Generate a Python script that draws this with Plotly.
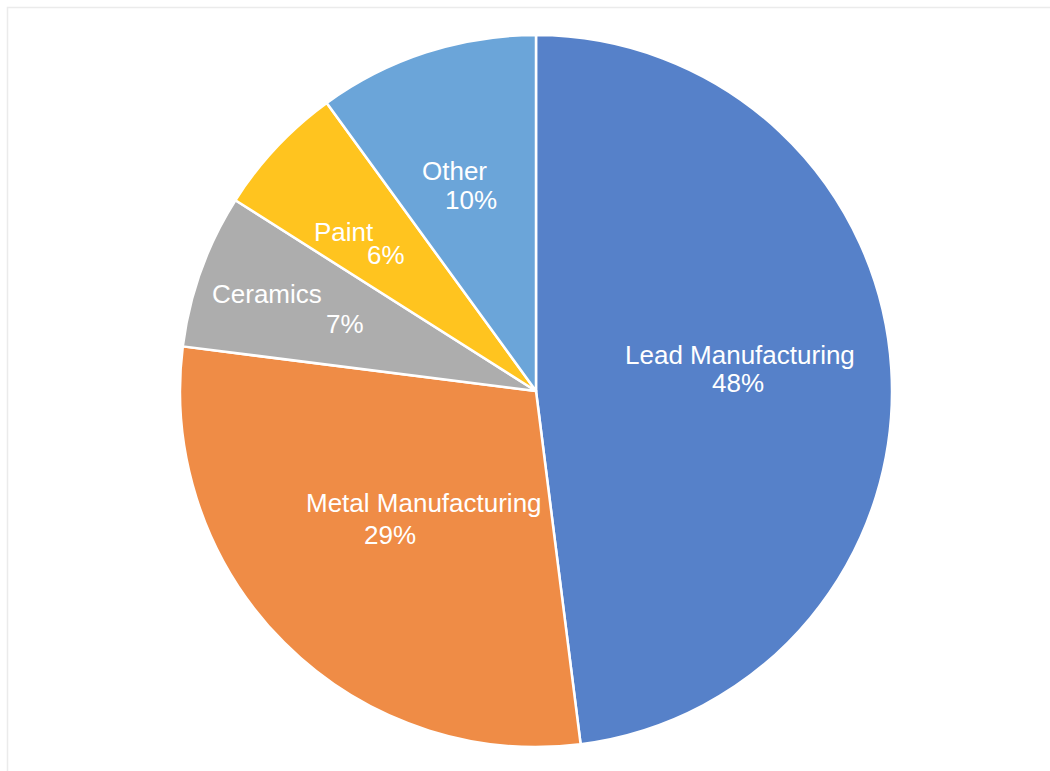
import plotly.graph_objects as go

# Share of sources (percent)
categories = ["Lead Manufacturing", "Metal Manufacturing", "Ceramics", "Paint", "Other"]
shares = [48, 29, 7, 6, 10]
colors = ["#5681C9", "#EF8C46", "#ADADAD", "#FFC41F", "#6BA5D9"]

W, H = 1050, 771
CX, CY, R = 536, 391, 356  # pie centre and radius in pixels

# Label placement, in units of the pie radius relative to the centre (x right, y up)
name_offsets = [(0.573, 0.100), (-0.315, -0.315), (-0.756, 0.272), (-0.539, 0.447), (-0.228, 0.618)]
pct_offsets = [(0.567, 0.022), (-0.410, -0.404), (-0.537, 0.189), (-0.421, 0.383), (-0.183, 0.537)]

FONT = "Liberation Sans, Arial, Helvetica, sans-serif"
FSIZE = 26

fig = go.Figure(
    go.Pie(
        labels=categories,
        values=shares,
        sort=False,
        direction="clockwise",
        rotation=0,
        marker=dict(colors=colors, line=dict(color="white", width=2.5)),
        textinfo="none",
        hoverinfo="label+percent",
        showlegend=False,
        domain=dict(
            x=[(CX - R) / W, (CX + R) / W],
            y=[1 - (CY + R) / H, 1 - (CY - R) / H],
        ),
    )
)


def to_paper(u, v):
    return (CX + u * R) / W, 1 - (CY - v * R) / H


annotations = []
for name, val, (nu, nv), (pu, pv) in zip(categories, shares, name_offsets, pct_offsets):
    x, y = to_paper(nu, nv)
    annotations.append(dict(x=x, y=y, xref="paper", yref="paper", text=name,
                            showarrow=False, xanchor="center", yanchor="middle",
                            font=dict(family=FONT, size=FSIZE, color="white")))
    x, y = to_paper(pu, pv)
    annotations.append(dict(x=x, y=y, xref="paper", yref="paper", text=f"{val}%",
                            showarrow=False, xanchor="center", yanchor="middle",
                            font=dict(family=FONT, size=FSIZE, color="white")))

fig.update_layout(
    width=W,
    height=H,
    margin=dict(l=0, r=0, t=0, b=0),
    paper_bgcolor="white",
    plot_bgcolor="white",
    annotations=annotations,
    shapes=[dict(type="rect", xref="paper", yref="paper",
                 x0=7.5 / W, x1=1.02, y0=-0.02, y1=1 - 7.5 / H,
                 line=dict(color="#EBEBEB", width=1.5), fillcolor="rgba(0,0,0,0)",
                 layer="below")],
)

fig.write_html("out.html")
